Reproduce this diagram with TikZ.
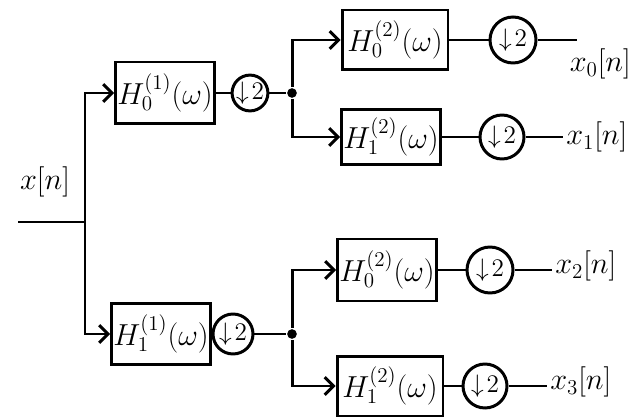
\documentclass[tikz,border=0pt]{standalone}
\usetikzlibrary{arrows.meta}
\begin{document}
\begin{tikzpicture}[x=0.02cm, y=-0.02cm, line width=1.7pt,
    flt/.style={draw, inner sep=1pt, align=center, font=\fontsize{18}{21}\selectfont},
    dwn/.style={draw, circle, inner sep=0pt, font=\fontsize{15}{17}\selectfont},
    jn/.style={circle, fill, inner sep=0pt, minimum size=5.5pt},
    lbl/.style={inner sep=1pt, font=\fontsize{18}{21}\selectfont},
    arr/.style={-{Straight Barb[length=5pt, width=10pt]}}]
  \useasboundingbox (0,0) rectangle (641,418);
  % ---- input and split ------------------------------------------------------
  \coordinate (in) at (18,222);
  \coordinate (split) at (85,222);
  \node[lbl] (xin) at (45,182) {$x[n]$};
  % ---- first stage ----------------------------------------------------------
  \node[flt, minimum width=1.8cm, minimum height=1.24cm] (f0) at (165,93) {$H_0^{(1)}(\omega)$};
  \node[dwn, minimum size=0.7cm] (d0) at (250,93) {$\downarrow\!2$};
  \node[jn] (j0) at (292,93) {};
  \node[flt, minimum width=1.7cm, minimum height=1.22cm] (f1) at (161,334) {$H_1^{(1)}(\omega)$};
  \node[dwn, minimum size=0.8cm] (d1) at (233,334) {$\downarrow\!2$};
  \node[jn] (j1) at (292,334) {};
  % ---- second stage ---------------------------------------------------------
  \node[flt, minimum width=2.12cm, minimum height=1.2cm] (f00) at (395,40) {$H_0^{(2)}(\omega)$};
  \node[dwn, minimum size=0.92cm] (d00) at (513,40) {$\downarrow\!2$};
  \coordinate (o00) at (577,40);
  \node[lbl, anchor=north east] (x0) at (634,46) {$x_0[n]$};
  \node[flt, minimum width=1.96cm, minimum height=1.1cm] (f01) at (391,137) {$H_1^{(2)}(\omega)$};
  \node[dwn, minimum size=0.88cm] (d01) at (502,137) {$\downarrow\!2$};
  \node[lbl, anchor=west] (x1) at (563,137) {$x_1[n]$};
  \node[flt, minimum width=1.92cm, minimum height=1.24cm] (f10) at (387,270) {$H_0^{(2)}(\omega)$};
  \node[dwn, minimum size=0.92cm] (d10) at (490,270) {$\downarrow\!2$};
  \node[lbl, anchor=west] (x2) at (552,266) {$x_2[n]$};
  \node[flt, minimum width=2.12cm, minimum height=1.2cm] (f11) at (390,386) {$H_1^{(2)}(\omega)$};
  \node[dwn, minimum size=0.88cm] (d11) at (485,386) {$\downarrow\!2$};
  \node[lbl, anchor=west] (x3) at (547,382) {$x_3[n]$};
  % ---- connectors -----------------------------------------------------------
  \draw (in) -- (split);
  \draw[arr] (split) |- (f0);
  \draw[arr] (split) |- (f1);
  \draw (f0) -- (d0) -- (j0);
  \draw (f1) -- (d1) -- (j1);
  \draw[arr] (j0) |- (f00);
  \draw[arr] (j0) |- (f01);
  \draw[arr] (j1) |- (f10);
  \draw[arr] (j1) |- (f11);
  \draw (f00) -- (d00) -- (o00);
  \draw (f01) -- (d01) -- (x1);
  \draw (f10) -- (d10) -- (d10 -| x2.west);
  \draw (f11) -- (d11) -- (d11 -| x3.west);
\end{tikzpicture}
\end{document}
